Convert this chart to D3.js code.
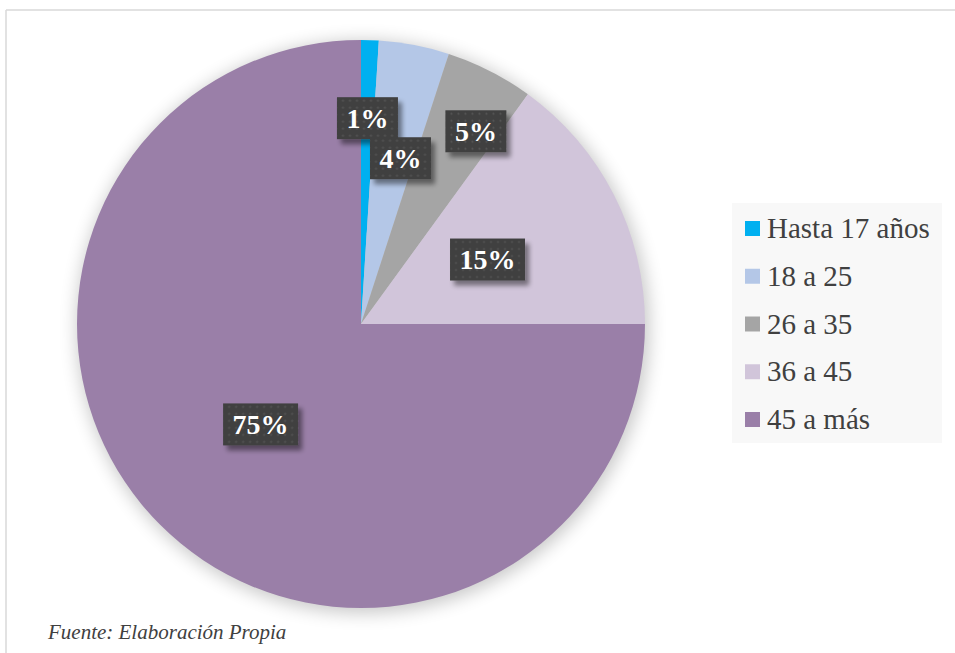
<!DOCTYPE html>
<html>
<head>
<meta charset="utf-8">
<script src="https://cdn.jsdelivr.net/npm/d3@7"></script>
<style>
  html, body { margin: 0; padding: 0; background: #ffffff; }
  svg { display: block; }
  svg text { font-family: "Liberation Serif", "Times New Roman", Times, serif; }
</style>
</head>
<body>
<svg id="chart" width="955" height="653"></svg>
<script>
// Age groups and their share of respondents (%)
const categories = ["Hasta 17 años", "18 a 25", "26 a 35", "36 a 45", "45 a más"];
const values = [1, 4, 5, 15, 75];
const colors = ["#00b0f0", "#b4c7e7", "#a5a5a5", "#d1c5da", "#9a7fa8"];
const sourceNote = "Fuente: Elaboración Propia";

// Label placement: fraction of the radius and angular nudge (degrees) per slice
const labelRadius = [0.725, 0.6, 0.79, 0.5, 0.5];
const labelNudge = [0, 2.6, 3.8, 0, 0];

const W = 955, H = 653;
const cx = 361, cy = 324, R = 284;

function render() {
  const svg = d3.select("#chart");
  svg.selectAll("*").remove();

  const defs = svg.append("defs");

  // soft glow behind the pie
  const glow = defs.append("filter").attr("id", "pieGlow")
    .attr("x", "-20%").attr("y", "-20%").attr("width", "140%").attr("height", "140%");
  glow.append("feGaussianBlur").attr("stdDeviation", 9);

  // drop shadow for the value labels
  const shadow = defs.append("filter").attr("id", "boxShadow")
    .attr("x", "-30%").attr("y", "-30%").attr("width", "160%").attr("height", "170%");
  shadow.append("feGaussianBlur").attr("in", "SourceAlpha").attr("stdDeviation", 2.5).attr("result", "b");
  shadow.append("feOffset").attr("in", "b").attr("dx", 4).attr("dy", 5).attr("result", "o");
  shadow.append("feComponentTransfer").attr("in", "o").attr("result", "s")
    .append("feFuncA").attr("type", "linear").attr("slope", 0.45);
  const merge = shadow.append("feMerge");
  merge.append("feMergeNode").attr("in", "s");
  merge.append("feMergeNode").attr("in", "SourceGraphic");

  // dotted dark texture for label boxes
  const pat = defs.append("pattern").attr("id", "dots")
    .attr("width", 7).attr("height", 7).attr("patternUnits", "userSpaceOnUse");
  pat.append("rect").attr("width", 7).attr("height", 7).attr("fill", "#404040");
  pat.append("circle").attr("cx", 3.5).attr("cy", 3.5).attr("r", 1).attr("fill", "#585858");

  // chart frame (top and left edges)
  svg.append("line").attr("x1", 6).attr("y1", 10).attr("x2", W).attr("y2", 10)
    .attr("stroke", "#d9d9d9").attr("stroke-width", 1.5);
  svg.append("line").attr("x1", 6).attr("y1", 10).attr("x2", 6).attr("y2", H)
    .attr("stroke", "#d9d9d9").attr("stroke-width", 1.5);

  const g = svg.append("g").attr("transform", `translate(${cx},${cy})`);

  g.append("circle").attr("r", R + 2).attr("cx", 2).attr("cy", 3)
    .attr("fill", "#000").attr("opacity", 0.22).attr("filter", "url(#pieGlow)");

  const pie = d3.pie().value(d => d).sort(null);
  const arcs = pie(values);
  const arc = d3.arc().innerRadius(0).outerRadius(R);

  g.selectAll("path.slice").data(arcs).join("path")
    .attr("class", "slice")
    .attr("d", arc)
    .attr("fill", (d, i) => colors[i]);

  // value labels
  const fmt = d3.format(".0%");
  const total = d3.sum(values);
  const labels = g.selectAll("g.lbl").data(arcs).join("g").attr("class", "lbl")
    .attr("transform", (d, i) => {
      const a = (d.startAngle + d.endAngle) / 2 + labelNudge[i] * Math.PI / 180;
      const r = R * labelRadius[i];
      return `translate(${r * Math.sin(a)},${-r * Math.cos(a)})`;
    });

  labels.each(function(d) {
    const sel = d3.select(this);
    const rect = sel.append("rect").attr("fill", "url(#dots)").attr("filter", "url(#boxShadow)");
    const t = sel.append("text")
      .attr("text-anchor", "middle")
      .attr("dy", "0.35em")
      .attr("font-weight", "bold")
      .attr("font-size", 28)
      .attr("fill", "#ffffff")
      .text(fmt(d.data / total));
    const w = t.node().getComputedTextLength() + 19;
    const h = 42;
    rect.attr("x", -w / 2).attr("y", -h / 2).attr("width", w).attr("height", h);
  });

  // legend
  const lg = svg.append("g").attr("transform", "translate(732,203)");
  lg.append("rect").attr("width", 210).attr("height", 240).attr("fill", "#f8f8f8");
  const items = lg.selectAll("g.item").data(categories).join("g").attr("class", "item")
    .attr("transform", (d, i) => `translate(0,${35 + i * 47.75})`);
  items.append("rect").attr("x", 13).attr("y", -17).attr("width", 15).attr("height", 15)
    .attr("fill", (d, i) => colors[i]);
  items.append("text").attr("x", 35).attr("y", 0)
    .attr("font-size", 29).attr("fill", "#404040")
    .text(d => d);

  // source note
  svg.append("text").attr("x", 48).attr("y", 639)
    .attr("font-style", "italic").attr("font-size", 21).attr("fill", "#404040")
    .text(sourceNote);
}

render();
if (document.fonts && document.fonts.load) {
  Promise.all([
    document.fonts.load('29px "Liberation Serif"'),
    document.fonts.load('bold 28px "Liberation Serif"'),
    document.fonts.load('italic 21px "Liberation Serif"')
  ]).then(render).catch(() => {});
}
</script>
</body>
</html>
